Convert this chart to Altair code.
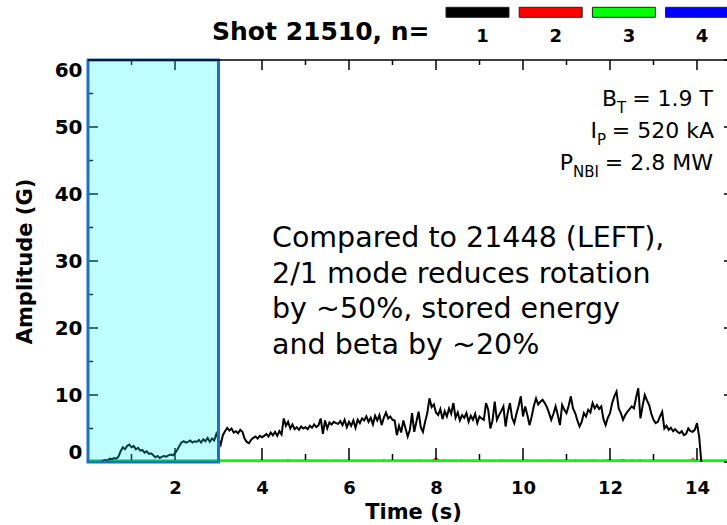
import altair as alt
import numpy as np
import pandas as pd

# ---------------- data ----------------
SERIES = ["1", "2", "3", "4"]
SERIES_COLORS = ["#000000", "#ff0000", "#00ff00", "#0000ff"]

# n=1 amplitude (G), sampled every 0.05 s starting at 0.30 s
N1_T0, N1_DT = 0.30, 0.05
N1_VALUES = [
    0.1, 0.2, 0.3, 0.2, 0.5, 0.4, 0.6, 0.5, 0.8, 1.6, 2.2, 1.9, 2.4, 2.6, 2.2,
    2.4, 1.9, 2.1, 1.7, 1.8, 1.4, 1.6, 1.2, 1.3, 1.0, 0.7, 0.9, 0.6, 0.8, 0.9, 0.8, 1.0, 1.1, 1.0, 1.3,
    1.8, 2.4, 2.9, 3.1, 2.9, 3.0, 3.2, 2.9, 3.1, 3.0, 3.3, 2.9, 3.4, 3.1, 3.6, 3.0, 3.5, 3.2, 4.2, 3.4,
    2.6, 4.0, 4.6, 5.1, 4.7, 5.0, 4.4, 4.6, 4.3, 4.8, 4.5, 3.5, 3.0, 2.8, 3.3, 3.6, 3.8, 3.5, 3.9, 3.7,
    3.9, 4.2, 3.8, 4.4, 4.0, 4.5, 3.9, 4.6, 4.1, 6.5, 5.4, 6.0, 5.0, 5.6, 4.9, 5.2, 4.8, 5.3, 5.0, 5.2,
    4.9, 5.4, 5.1, 5.6, 5.2, 5.5, 6.5, 4.2, 6.2, 5.0, 5.9, 5.6, 6.0, 5.8, 5.7, 6.1, 5.5, 6.3, 5.2, 6.0,
    5.4, 6.2, 5.1, 6.3, 5.8, 6.5, 6.2, 6.8, 6.0, 6.6, 5.6, 6.9, 6.2, 7.0, 5.5, 6.6, 7.4, 6.5, 6.8, 6.3,
    6.2, 4.0, 5.4, 4.4, 6.2, 5.0, 3.8, 4.8, 7.3, 4.5, 6.0, 7.5, 5.2, 4.5, 6.0, 7.3, 9.5, 8.2, 8.6, 7.4,
    7.0, 7.9, 6.4, 7.6, 6.8, 8.0, 7.2, 8.8, 6.6, 7.4, 6.2, 7.0, 6.6, 7.3, 6.0, 6.9, 6.3, 7.2, 5.8, 6.8,
    6.5, 6.3, 8.8, 7.8, 5.0, 6.2, 9.0, 6.3, 7.0, 7.6, 8.3, 5.3, 7.4, 8.8, 6.6, 5.8, 7.2, 8.4, 9.8, 6.8,
    8.3, 7.0, 5.5, 6.8, 8.4, 9.5, 8.6, 9.0, 9.3, 8.8, 8.2, 7.3, 6.3, 7.2, 8.3, 7.0, 5.5, 8.5, 7.8, 7.3,
    8.4, 9.8, 8.0, 7.3, 6.2, 5.3, 6.0, 7.3, 6.8, 7.8, 7.4, 8.8, 8.0, 8.5, 7.9, 8.3, 6.4, 5.5, 6.6, 7.3,
    8.8, 9.8, 10.5, 8.0, 7.3, 6.3, 7.0, 7.5, 7.9, 8.3, 8.0, 9.6, 11.0, 6.5, 8.4, 10.0, 9.2, 8.5, 7.2, 6.3,
    5.8, 6.0, 6.8, 7.5, 5.0, 5.4, 4.8, 5.1, 4.6, 4.9, 4.5, 4.3, 4.6, 4.0, 4.2, 5.0, 4.6, 4.5, 4.8, 5.8,
    3.8, 0.0,
]

# n=2 amplitude (G), sampled every 0.1 s starting at 3.0 s
N2_T0, N2_DT = 3.0, 0.1
N2_VALUES = [
    0.0, 0.0, 0.0, 0.1, 0.0, 0.0, 0.0, 0.1, 0.0, 0.0,
    0.0, 0.0, 0.1, 0.0, 0.0, 0.1, 0.3, 0.0, 0.1, 0.0,
    0.0, 0.1, 0.0, 0.0, 0.1, 0.0, 0.0, 0.3, 0.0, 0.0,
    0.1, 0.0, 0.0, 0.2, 0.0, 0.1, 0.0, 0.0, 0.3, 0.0,
    0.0, 0.1, 0.0, 0.2, 0.0, 0.0, 0.3, 0.0, 0.1, 0.2,
    0.6, 0.1, 0.3, 0.0, 0.2, 0.1, 0.3, 0.0, 0.2, 0.1,
    0.0, 0.2, 0.0, 0.1, 0.0, 0.3, 0.0, 0.1, 0.0, 0.0,
    0.1, 0.3, 0.0, 0.2, 0.1, 0.0, 0.3, 0.1, 0.2, 0.0,
    0.1, 0.0, 0.3, 0.1, 0.2, 0.0, 0.3, 0.1, 0.0, 0.2,
    0.4, 0.1, 0.2, 0.4, 0.0, 0.3, 0.1, 0.3, 0.0, 0.1,
    0.0, 0.0, 0.2, 0.0, 0.1, 0.0, 0.0, 0.1, 0.0, 0.5,
    0.2, 0.0,
]

# n=3 and n=4 stay at zero over the whole window (sampled every 0.5 s)
FLAT_T = [0.0, 0.5, 1.0, 1.5, 2.0, 2.5, 3.0, 3.5, 4.0, 4.5, 5.0, 5.5, 6.0, 6.5, 7.0, 7.5,
          8.0, 8.5, 9.0, 9.5, 10.0, 10.5, 11.0, 11.5, 12.0, 12.5, 13.0, 13.5, 14.0, 14.5, 15.0]
N3_VALUES = [0.0] * len(FLAT_T)
N4_VALUES = [0.0] * len(FLAT_T)

SHADE_T = [0.0, 3.0]          # shaded time window (s)
AMP_RANGE = [0.0, 60.0]       # y range (G)
X_MAX = 14.69                 # visible end of the time axis (s)

X_LABELS = [2, 4, 6, 8, 10, 12, 14]
Y_LABELS = [0, 10, 20, 30, 40, 50, 60]
X_MAJOR = [0, 2, 4, 6, 8, 10, 12, 14]
X_MINOR = [1, 3, 5, 7, 9, 11, 13]
Y_MAJOR = [0, 10, 20, 30, 40, 50, 60]
Y_MINOR = [5, 15, 25, 35, 45, 55]

TITLE = "Shot 21510, n="
NOTE = ["Compared to 21448 (LEFT),", "2/1 mode reduces rotation",
        "by ~50%, stored energy", "and beta by ~20%"]

# ---------------- build ----------------
W, H = 639, 402
FONT = "DejaVu Sans"

xs = alt.Scale(domain=[0, X_MAX], nice=False, zero=False)
ys = alt.Scale(domain=AMP_RANGE, nice=False, zero=False)


def series_df(t0, dt, vals):
    t = np.round(t0 + dt * np.arange(len(vals)), 3)
    return pd.DataFrame({"t": t, "v": vals})


df1 = series_df(N1_T0, N1_DT, N1_VALUES)
df2 = series_df(N2_T0, N2_DT, N2_VALUES)
df3 = pd.DataFrame({"t": FLAT_T, "v": N3_VALUES})
df4 = pd.DataFrame({"t": FLAT_T, "v": N4_VALUES})

X_AXIS = alt.Axis(values=X_LABELS, title="Time (s)", grid=False, domain=False,
                  ticks=False, tickSize=0, labelPadding=17, labelFlush=False,
                  labelFont=FONT, labelFontWeight="bold", labelFontSize=18,
                  labelColor="black", titleFont=FONT, titleFontWeight="bold",
                  titleFontSize=21, titleColor="black", titleX=325, titleY=56,
                  titleBaseline="alphabetic")
Y_AXIS = alt.Axis(values=Y_LABELS, title="Amplitude (G)", grid=False, domain=False,
                  ticks=False, tickSize=0, labelPadding=6, labelFlush=True,
                  labelFont=FONT, labelFontWeight="bold", labelFontSize=20,
                  labelColor="black", titleFont=FONT, titleFontWeight="bold",
                  titleFontSize=21, titleColor="black", titleX=-63, titleY=201,
                  titleBaseline="middle")


def X(field):
    return alt.X(field, scale=xs, axis=X_AXIS)


def Y(field):
    return alt.Y(field, scale=ys, axis=Y_AXIS)


def line(df, color, width):
    return alt.Chart(df).mark_line(color=color, strokeWidth=width, clip=True).encode(
        x=X("t:Q"), y=Y("v:Q"))


blue = line(df4, SERIES_COLORS[3], 1.5)
red = line(df2, SERIES_COLORS[1], 1.2)
green = line(df3, SERIES_COLORS[2], 5.5)
black = line(df1, SERIES_COLORS[0], 2)


def yticks(vals, x1, x2):
    return alt.Chart(pd.DataFrame({"v": vals})).mark_rule(color="black", strokeWidth=1.5).encode(
        y=Y("v:Q"), x=alt.value(x1), x2=alt.value(x2))


def xticks(vals, y1, y2):
    return alt.Chart(pd.DataFrame({"v": vals})).mark_rule(color="black", strokeWidth=1.5).encode(
        x=X("v:Q"), y=alt.value(y1), y2=alt.value(y2))


# bottom ticks: drawn in amplitude units so they sit just above the n=3 trace
BOTTOM_TICK_BASE = 0.3
MAJOR_TICK_TOP = 2.1
MINOR_TICK_TOP = 1.2


def bottom_ticks(vals, top):
    d = pd.DataFrame({"v": vals, "b": [BOTTOM_TICK_BASE] * len(vals), "e": [top] * len(vals)})
    return alt.Chart(d).mark_rule(color="black", strokeWidth=1.5).encode(
        x=X("v:Q"), y=Y("b:Q"), y2="e:Q")


ticks = [
    xticks(X_MAJOR, 0, 10), xticks(X_MINOR, 0, 5),
    bottom_ticks(X_MAJOR, MAJOR_TICK_TOP), bottom_ticks(X_MINOR, MINOR_TICK_TOP),
    yticks(Y_MAJOR, 0, 10), yticks(Y_MINOR, 0, 5),
    yticks(Y_MAJOR, W - 3, W),
]

shade_df = pd.DataFrame({"x0": [SHADE_T[0]], "x1": [SHADE_T[1]],
                         "y0": [AMP_RANGE[0]], "y1": [AMP_RANGE[1]]})
shade = alt.Chart(shade_df).mark_rect(fill="#00ffff", fillOpacity=0.25,
                                      stroke="#1f70c0", strokeWidth=3).encode(
    x=X("x0:Q"), x2="x1:Q", y=Y("y0:Q"), y2="y1:Q")

frame_df = pd.DataFrame({"a": [0.0], "b": [X_MAX], "top": [AMP_RANGE[1]]})
frame = alt.Chart(frame_df).mark_rule(color="black", strokeWidth=1.5).encode(
    x=X("a:Q"), x2="b:Q", y=Y("top:Q"))

ONE = pd.DataFrame({"k": [0]})


def txt(s, x, y, size, weight="normal", align="left", lh=None):
    kw = dict(text=s, font=FONT, fontSize=size, fontWeight=weight, align=align,
              baseline="alphabetic", color="black")
    if lh is not None:
        kw["lineHeight"] = lh
    return alt.Chart(ONE).mark_text(**kw).encode(x=alt.value(x), y=alt.value(y))


texts = [
    txt(TITLE, 124, -20, 25, "bold"),
    txt(NOTE, 184, 187, 28.5, lh=35.5),
    # B_T = 1.9 T
    txt("B", 529, 46, 22, align="right"),
    txt("T", 529, 52.7, 15),
    txt("= 1.9 T", 625, 46, 22, align="right"),
    # I_P = 520 kA
    txt("I", 509, 78, 22, align="right"),
    txt("P", 509, 84.7, 15),
    txt("= 520 kA", 626, 78, 22, align="right"),
    # P_NBI = 2.8 MW
    txt("P", 485, 110, 22, align="right"),
    txt("NBI", 485, 116.7, 15),
    txt("= 2.8 MW", 625, 110, 22, align="right"),
]

legend_df = pd.DataFrame({"idx": list(range(len(SERIES))), "label": SERIES, "color": SERIES_COLORS})
legend_base = alt.Chart(legend_df).transform_calculate(
    cx="389.5 + datum.idx * 73.2", lo="389.5 + datum.idx * 73.2 - 31.5",
    hi="389.5 + datum.idx * 73.2 + 31.5")
legend_bars = legend_base.mark_rect(stroke="#222222", strokeWidth=1).encode(
    x=alt.X("lo:Q", scale=None, axis=None), x2="hi:Q",
    y=alt.value(-52.7), y2=alt.value(-42.7),
    fill=alt.Color("color:N", scale=None, legend=None))
legend_text = legend_base.mark_text(font=FONT, fontSize=18, fontWeight="bold",
                                    baseline="alphabetic", color="black", dx=5).encode(
    x=alt.X("cx:Q", scale=None, axis=None), y=alt.value(-18), text="label:N")

chart = alt.layer(
    blue, red, green, black, *ticks, shade, frame,
    *texts, legend_bars, legend_text
).properties(
    width=W, height=H,
    autosize=alt.AutoSizeParams(type="none"),
    padding={"left": 88, "top": 60, "right": 0, "bottom": 63},
).configure_view(stroke=None)

chart.save("out.html", embed_options={"renderer": "svg", "actions": False})
